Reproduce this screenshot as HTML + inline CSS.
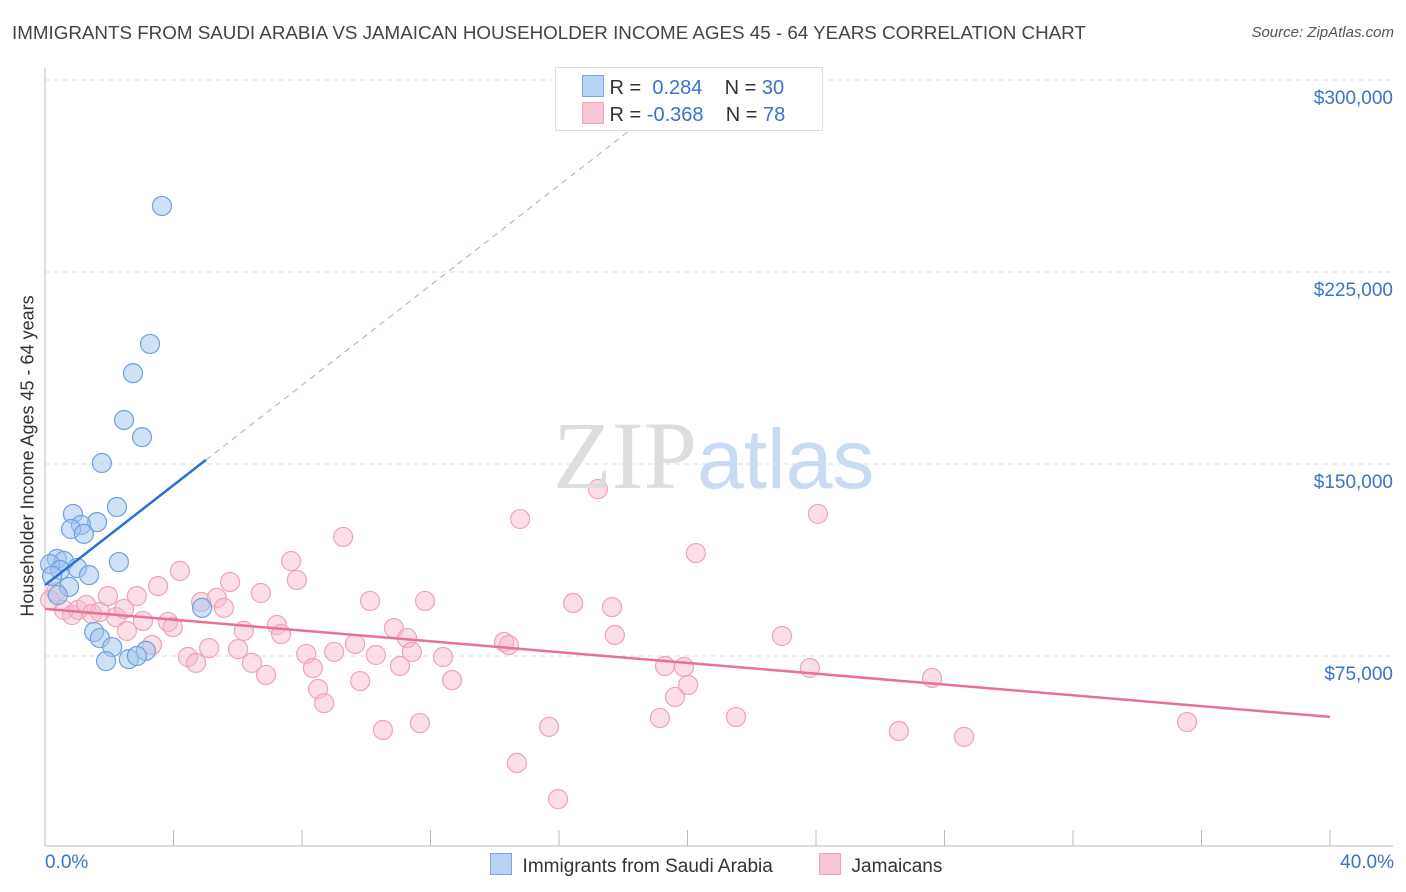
<!DOCTYPE html>
<html><head><meta charset="utf-8"><style>
body{margin:0;background:#fff;font-family:"Liberation Sans",sans-serif;}
#wrap{position:relative;width:1406px;height:892px;overflow:hidden;}
.t{position:absolute;white-space:nowrap;}
</style></head><body>
<div id="wrap">
<div class="t" style="left:12px;top:22px;font-size:18.8px;color:#444;">IMMIGRANTS FROM SAUDI ARABIA VS JAMAICAN HOUSEHOLDER INCOME AGES 45 - 64 YEARS CORRELATION CHART</div>
<div class="t" style="right:12px;top:24px;font-size:15px;color:#555;font-style:italic;">Source: ZipAtlas.com</div>
<div class="t" style="left:28px;top:456px;font-size:18px;color:#333;transform:translate(-50%,-50%) rotate(-90deg);">Householder Income Ages 45 - 64 years</div>
<svg id="plot" width="1406" height="892" style="position:absolute;left:0;top:0"></svg>
<div class="t" style="left:553px;top:400px;font-size:96px;color:#ddd;font-family:'Liberation Serif',serif;">ZIP<span style="color:#c8dbf2;font-family:'Liberation Sans',sans-serif;font-size:84px;">atlas</span></div>
<div style="position:absolute;left:555px;top:67px;width:266px;height:62px;border:1px solid #ddd;background:#fff;font-size:20px;color:#333;">
 <div style="position:absolute;left:26px;top:7px;"><span style="display:inline-block;width:20px;height:20px;background:#b8d3f4;border:1px solid #7aa6e0;vertical-align:-3px;"></span> R = &nbsp;<span style="color:#3a73c9">0.284</span>&nbsp;&nbsp;&nbsp; N = <span style="color:#3a73c9">30</span></div>
 <div style="position:absolute;left:26px;top:34px;"><span style="display:inline-block;width:20px;height:20px;background:#f9c6d5;border:1px solid #eea3bb;vertical-align:-3px;"></span> R = <span style="color:#3a73c9">-0.368</span>&nbsp;&nbsp;&nbsp; N = <span style="color:#3a73c9">78</span></div>
</div>
<div class="t" style="left:45px;top:852px;font-size:19px;color:#3a73c9;">0.0%</div>
<div class="t" style="right:12px;top:852px;font-size:19px;color:#3a73c9;">40.0%</div>
<div class="t" style="left:490px;top:853px;font-size:19px;color:#333;"><span style="display:inline-block;width:20px;height:20px;background:#b8d3f4;border:1px solid #7aa6e0;vertical-align:-3px;"></span>&nbsp; Immigrants from Saudi Arabia</div>
<div class="t" style="left:819px;top:853px;font-size:19px;color:#333;"><span style="display:inline-block;width:20px;height:20px;background:#f9c6d5;border:1px solid #eea3bb;vertical-align:-3px;"></span>&nbsp; Jamaicans</div>
</div>
<script>
const yTicks=[75,150,225,300];
const yTickLabels=["$75,000","$150,000","$225,000","$300,000"];
const xTicks=[0,4,8,12,16,20,24,28,32,36,40];
const blueX=[3.64,3.27,2.74,2.46,3.02,1.77,2.24,0.87,1.62,1.12,0.81,1.21,0.37,0.59,0.16,2.30,0.47,1.00,1.37,0.22,0.75,0.40,4.89,1.53,1.71,2.09,3.14,1.90,2.61,2.86];
const blueY=[250.8,196.9,185.5,167.2,160.5,150.4,133.2,130.5,127.3,126.2,124.6,122.7,112.9,112.1,110.9,111.7,108.6,109.4,106.6,106.3,102.0,98.8,93.8,84.4,82.0,78.5,77.0,73.0,73.8,75.0];
const pinkX=[0.16,0.34,0.59,0.84,1.03,1.28,1.46,1.71,1.96,2.21,2.46,2.55,2.86,3.05,3.33,3.52,3.83,3.98,4.20,4.45,4.70,4.86,5.11,5.35,5.57,5.76,6.01,6.19,6.44,6.72,6.88,7.22,7.35,7.66,7.84,8.13,8.34,8.50,8.69,9.00,9.28,9.65,9.81,10.12,10.30,10.52,10.86,11.05,11.27,11.42,11.67,11.83,12.39,12.67,14.29,14.44,14.69,14.79,15.69,15.97,16.44,17.21,17.65,17.74,19.14,19.30,19.61,19.89,20.02,20.26,21.51,22.94,23.81,24.06,26.58,27.61,28.61,35.55];
const pinkY=[96.9,100.0,93.0,91.0,93.0,94.9,91.4,92.2,98.4,90.2,93.4,84.8,98.4,88.7,79.3,102.3,88.3,86.3,108.2,74.6,72.3,96.1,78.1,97.7,93.8,103.9,77.7,84.8,72.3,99.6,67.6,87.1,83.6,112.1,104.7,75.8,70.3,62.1,56.6,76.6,121.5,79.7,65.2,96.5,75.4,46.1,85.9,71.1,82.0,76.6,48.8,96.5,74.6,65.6,80.5,79.3,33.2,128.5,47.3,19.1,95.7,140.2,94.1,83.2,50.8,71.1,59.0,70.7,63.7,115.2,51.2,82.8,70.3,130.5,45.7,66.4,43.4,49.2];
const blueTrend=[102.7,9.76];
const pinkTrend=[93.4,-1.055];
const sx=p=>45+p*32.125, sy=v=>848-v*2.56;
const svg=document.getElementById('plot'),NS='http://www.w3.org/2000/svg';
function mk(t,a){const e=document.createElementNS(NS,t);for(const k in a)e.setAttribute(k,a[k]);svg.appendChild(e);return e;}
yTicks.forEach((v,i)=>{
 const g=mk('line',{x1:45,x2:1393,y1:sy(v),y2:sy(v),stroke:'#ddd','stroke-dasharray':'5,4'});
 
 
 const t=mk('text',{x:1393,y:sy(v)+24,'text-anchor':'end','font-size':19,fill:'#3a73c9','font-family':'Liberation Sans, sans-serif'});
 t.textContent=yTickLabels[i];
 
 
});
const ax=mk('line',{x1:45,x2:45,y1:68,y2:846,stroke:'#bbb'});


const bx=mk('line',{x1:45,x2:1393,y1:846,y2:846,stroke:'#bbb'});


xTicks.forEach(p=>{const l=mk('line',{x1:sx(p),x2:sx(p),y1:830,y2:846,stroke:'#bbb'});
 
 });
function pts(X,Y,fill,stroke,name){X.forEach((x,i)=>{const c=mk('circle',{cx:sx(x),cy:sy(Y[i]),r:9.5,fill:fill,stroke:stroke,'stroke-width':1.2});
 
 });}
pts(pinkX,pinkY,'rgba(248,182,202,0.45)','#eea3bb','jamaican-point');
pts(blueX,blueY,'rgba(160,196,240,0.5)','#6fa0e0','saudi-point');
const bl=mk('line',{x1:sx(0),y1:sy(blueTrend[0]),x2:sx(5.01),y2:sy(blueTrend[0]+blueTrend[1]*5.01),stroke:'#2a6fd6','stroke-width':2.5});


const bd=mk('line',{x1:sx(5.01),y1:sy(blueTrend[0]+blueTrend[1]*5.01),x2:sx(19),y2:sy(blueTrend[0]+blueTrend[1]*19),stroke:'#8fb3e6','stroke-width':1,'stroke-dasharray':'6,5'});


const pl=mk('line',{x1:sx(0),y1:sy(pinkTrend[0]),x2:sx(40),y2:sy(pinkTrend[0]+pinkTrend[1]*40),stroke:'#e8709a','stroke-width':2.5});


</script>
</body></html>
